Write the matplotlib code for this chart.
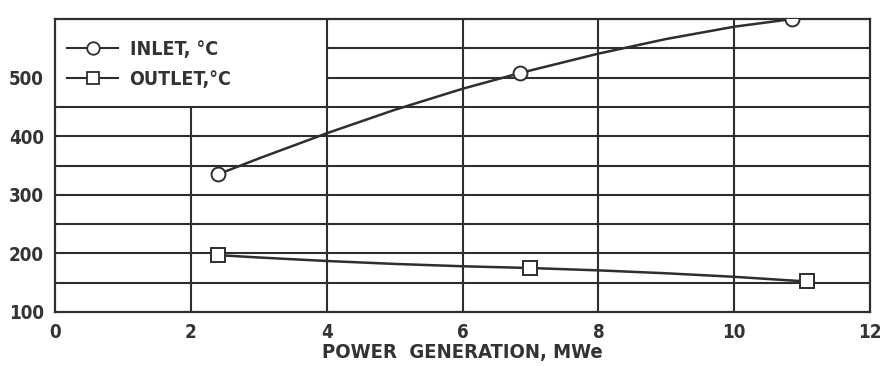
import matplotlib
matplotlib.use("Agg")
import matplotlib.pyplot as plt

# -----------------------------
# Values
# -----------------------------
inlet_x = [2.4, 6.85, 10.85]
inlet_y = [335, 508, 600]
inlet_curve_x = [2.4, 3, 4, 5, 6, 6.85, 8, 9, 10, 10.85]
inlet_curve_y = [335, 362, 405, 445, 481, 508, 541, 566, 587, 600]

outlet_x = [2.4, 7.0, 11.07]
outlet_y = [197, 175, 152]
outlet_curve_x = [2.4, 3, 4, 5, 6, 7.0, 8, 9, 10, 11.07]
outlet_curve_y = [197, 193, 187, 182, 178, 175, 171, 166, 160, 152]

x_ticks = [0, 2, 4, 6, 8, 10, 12]
y_ticks = [100, 200, 300, 400, 500]
labels = ["INLET, °C", "OUTLET,°C"]

ink = "#2e2e2e"
font = dict(family="DejaVu Sans", stretch="condensed", weight="bold", color="#333333")

fig = plt.figure(figsize=(8.82, 3.67), dpi=100)
ax = fig.add_axes([0.0624, 0.150, 0.924, 0.798])
ax.set_xlim(0, 12)
ax.set_ylim(100, 600)

# grid, with the top-left cell kept free for the legend
for y in [150, 200, 250, 300, 350, 400, 450]:
    ax.hlines(y, 0, 12, color=ink, lw=1.5, zorder=1)
for y in [500, 550]:
    ax.hlines(y, 4, 12, color=ink, lw=1.5, zorder=1)
for x in [4, 6, 8, 10]:
    ax.vlines(x, 100, 600, color=ink, lw=1.5, zorder=1)
ax.vlines(2, 100, 450, color=ink, lw=1.5, zorder=1)

for s in ax.spines.values():
    s.set_color(ink)
    s.set_linewidth(1.6)

# curves and markers
ax.plot(inlet_curve_x, inlet_curve_y, color=ink, lw=1.8, zorder=2)
ax.plot(outlet_curve_x, outlet_curve_y, color=ink, lw=1.8, zorder=2)
ax.plot(inlet_x, inlet_y, "o", ms=10, mfc="white", mec=ink, mew=1.4, zorder=3)
ax.plot(outlet_x, outlet_y, "s", ms=9.5, mfc="white", mec=ink, mew=1.4, zorder=3)

# legend handles
h1, = ax.plot([], [], "-o", color=ink, lw=1.5, ms=9, mfc="white", mec=ink, mew=1.3)
h2, = ax.plot([], [], "-s", color=ink, lw=1.5, ms=8.5, mfc="white", mec=ink, mew=1.3)
leg = ax.legend([h1, h2], labels, loc="upper left", bbox_to_anchor=(-0.01, 1.0),
                frameon=False, handlelength=2.6, handletextpad=0.6, labelspacing=0.6,
                borderaxespad=0.65, prop=dict(family="DejaVu Sans", stretch="condensed",
                                                weight="bold", size=14))
for t in leg.get_texts():
    t.set_color("#333333")

ax.set_xticks(x_ticks)
ax.set_yticks(y_ticks)
ax.set_xticklabels([str(v) for v in x_ticks], fontsize=13.5, **font)
ax.set_yticklabels([str(v) for v in y_ticks], fontsize=13.5, **font)
ax.tick_params(length=0, pad=8)
ax.set_xlabel("POWER  GENERATION, MWe", fontsize=14.5, labelpad=1, **font)

fig.savefig("out.png", dpi=100)
